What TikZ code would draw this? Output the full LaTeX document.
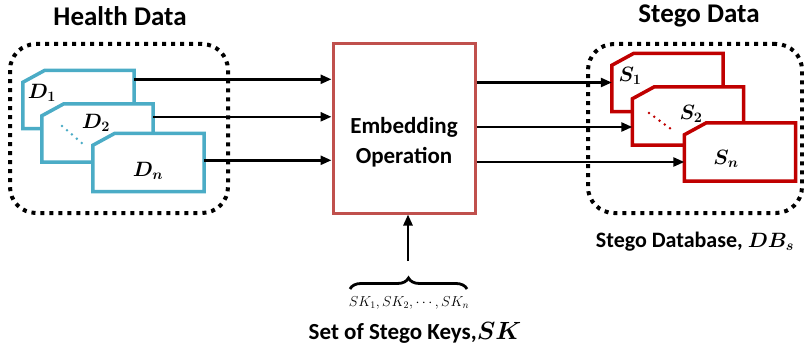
\documentclass[tikz,border=0pt]{standalone}
\usepackage{fontspec}
\setmainfont{Carlito}
\usetikzlibrary{arrows.meta,decorations.pathreplacing}
\definecolor{docblue}{RGB}{75,172,198}
\definecolor{docred}{RGB}{192,0,0}
\definecolor{embred}{RGB}{192,80,77}
\newcommand\docoutline[2]{\draw[docline,#2] ([yshift=-12pt]#1.north west) -- ([xshift=22pt]#1.north west) -- (#1.north east) -- (#1.south east) -- (#1.south west) -- cycle;}
\begin{document}
\begin{tikzpicture}[x=1pt,y=-1pt,
  docnode/.style={inner sep=0pt, minimum width=111pt, minimum height=58pt},
  docline/.style={line width=3.5pt, fill=white, line join=miter},
  dotframe/.style={draw, line width=4pt, dash pattern=on 4pt off 5pt, rounded corners=26pt, inner sep=0pt},
  arr/.style={line width=2.5pt, -{Triangle[length=11pt,width=9pt]}},
  title/.style={font=\fontsize{27}{30}\selectfont\bfseries},
  lbl/.style={font=\fontsize{23}{30}\selectfont\bfseries, align=center},
  mlab/.style={font=\fontsize{21}{23}\selectfont\boldmath, inner sep=0pt},
  dots/.style={line width=2.8pt, dash pattern=on 0pt off 6.5pt, line cap=round}
]
\useasboundingbox (0,0) rectangle (804,353);
% titles
\node[title] (ht) at (120,16) {Health Data};
\node[title] (st) at (699,16) {Stego Data};
% dotted frames
\node[dotframe, minimum width=218pt, minimum height=169pt] (hframe) at (119,128.5) {};
\node[dotframe, minimum width=214pt, minimum height=169pt] (sframe) at (695,128.5) {};
% health docs
\node[docnode] (d1) at (78.5,99.5) {};
\node[docnode] (d2) at (97.5,133) {};
\node[docnode] (dn) at (148.5,162.5) {};
\docoutline{d1}{draw=docblue}
\node[mlab] (d1l) at (42,93) {$D_1$};
\docoutline{d2}{draw=docblue}
\node[mlab] (d2l) at (96,123) {$D_2$};
\coordinate (bd1) at (62,126);
\coordinate (bd2) at (83,144);
\draw[dots, docblue] (bd1) -- (bd2);
\docoutline{dn}{draw=docblue}
\node[mlab] (dnl) at (148,171) {$D_n$};
% stego docs
\node[docnode] (s1) at (667.5,82.5) {};
\node[docnode] (s2) at (688,116) {};
\node[docnode] (sn) at (740,152) {};
\docoutline{s1}{draw=docred}
\node[mlab] (s1l) at (630,76) {$S_1$};
\docoutline{s2}{draw=docred}
\node[mlab] (s2l) at (691,114) {$S_2$};
\coordinate (rd1) at (649,113);
\coordinate (rd2) at (671,129);
\draw[dots, docred] (rd1) -- (rd2);
\docoutline{sn}{draw=docred}
\node[mlab] (snl) at (726,159) {$S_n$};
% embedding box
\node[draw=embred, line width=3pt, minimum width=142pt, minimum height=169pt, inner sep=0pt, lbl] (emb) at (404,128.5) {};
\node[lbl] (embt) at (404,142) {Embedding\\Operation};
% arrows in
\coordinate (a1) at ([yshift=-9pt]d1.north east);
\coordinate (a2) at ([yshift=-13pt]d2.north east);
\coordinate (a3) at ([yshift=-27pt]dn.north east);
\draw[arr] (a1) -- (a1 -| emb.west);
\draw[arr] (a2) -- (a2 -| emb.west);
\draw[arr] (a3) -- (a3 -| emb.west);
% arrows out
\coordinate (b1) at (emb.east |- s1.west);
\coordinate (b2) at ([yshift=-11pt]emb.east |- s2.west);
\coordinate (b3) at ([yshift=-10pt]emb.east |- sn.west);
\draw[arr] (b1) -- (b1 -| s1.west);
\draw[arr] (b2) -- (b2 -| s2.west);
\draw[arr] (b3) -- (b3 -| sn.west);
% keys
\coordinate (br1) at (350,289);
\coordinate (br2) at (467,289);
\draw[line width=2.8pt, decorate, decoration={brace, amplitude=11pt}] (br1) -- (br2);
\coordinate (kup) at (408,261);
\draw[arr] (kup) -- (kup |- emb.south);
\node[font=\fontsize{14}{16}\selectfont, inner sep=0pt] (sk) at (409,303) {$SK_1,SK_2,\cdots,SK_n$};
\node[lbl] (skt) at (415,333) {Set of Stego Keys,{\boldmath$SK$}};
\node[lbl, font=\fontsize{22}{30}\selectfont\bfseries] (sdb) at (695,242) {Stego Database, {\boldmath$DB_s$}};
\end{tikzpicture}
\end{document}
